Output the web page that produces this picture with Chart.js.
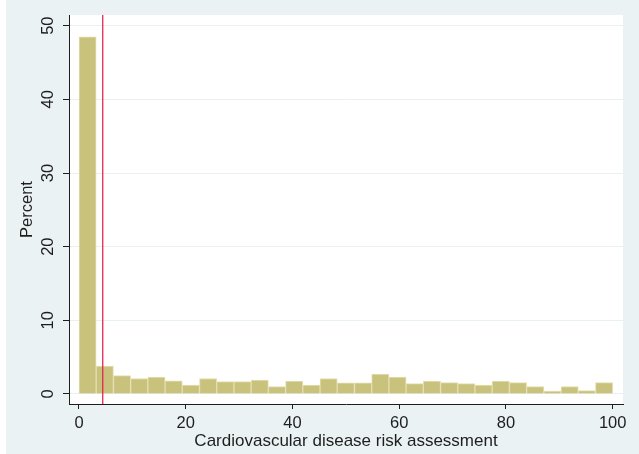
<!DOCTYPE html>
<html>
<head>
<meta charset="utf-8">
<title>Cardiovascular disease risk assessment</title>
<script src="https://cdn.jsdelivr.net/npm/chart.js@4.4.1/dist/chart.umd.min.js"></script>
<style>
  html, body { margin: 0; padding: 0; background: #ffffff; }
  #wrap { width: 639px; height: 454px; }
</style>
</head>
<body>
<div id="wrap"><canvas id="hist" width="639" height="454"></canvas></div>
<script>
// Histogram of the risk score: 31 equal-width bins over 0-100
const binCount = 31;
const scoreMin = 0;
const scoreMax = 100;
const percent = [
  48.5, 3.8, 2.5, 2.1, 2.3, 1.8, 1.2, 2.1, 1.7, 1.7,
  1.9, 1.0, 1.75, 1.2, 2.1, 1.5, 1.5, 2.7, 2.3, 1.4,
  1.75, 1.55, 1.4, 1.2, 1.75, 1.55, 1.0, 0.4, 1.0, 0.45,
  1.55
];
const xTickValues = [0, 20, 40, 60, 80, 100];
const yTickValues = [0, 10, 20, 30, 40, 50];
const cutoff = 4.45;

const binWidth = (scoreMax - scoreMin) / binCount;
const barPoints = percent.map((v, i) => ({ x: scoreMin + (i + 0.5) * binWidth, y: v }));

const yMin = -1.36, yMax = 51.45;
const xMin = -1.87, xMax = 101.93;

const FONT = '"Liberation Sans", Arial, Helvetica, sans-serif';
const TEXT = '#1e1e1e';
const PANEL = '#eaf2f3';

// outer panel and white plot region
const backdrop = {
  id: 'backdrop',
  beforeDraw(chart) {
    const { ctx, chartArea: a, width, height } = chart;
    ctx.save();
    ctx.fillStyle = '#ffffff';
    ctx.fillRect(0, 0, width, height);
    ctx.fillStyle = PANEL;
    ctx.fillRect(6, 0, width - 6, height);
    ctx.fillStyle = '#ffffff';
    ctx.fillRect(a.left, a.top, a.right - a.left, a.bottom - a.top);
    ctx.restore();
  }
};

new Chart(document.getElementById('hist'), {
  data: {
    datasets: [
      {
        type: 'line',
        data: [{ x: cutoff, y: yMin }, { x: cutoff, y: yMax }],
        borderColor: '#e2284f',
        borderWidth: 1.3,
        pointRadius: 0,
        order: 0
      },
      {
        type: 'bar',
        data: barPoints,
        backgroundColor: '#c9c27d',
        borderColor: '#e4dfb2',
        borderWidth: 1,
        barPercentage: 1,
        categoryPercentage: 1,
        order: 1
      }
    ]
  },
  options: {
    responsive: false,
    animation: false,
    devicePixelRatio: 1,
    layout: { padding: { left: 6, top: 15, right: 16, bottom: 0 } },
    plugins: { legend: { display: false }, tooltip: { enabled: false } },
    scales: {
      x: {
        type: 'linear',
        offset: false,
        min: xMin,
        max: xMax,
        afterBuildTicks(scale) { scale.ticks = xTickValues.map(v => ({ value: v })); },
        afterFit(scale) { scale.height = 50; },
        grid: { offset: false, drawOnChartArea: false, drawTicks: true, tickLength: 5, tickColor: TEXT },
        border: { display: true, color: TEXT, width: 1 },
        ticks: { color: TEXT, font: { family: FONT, size: 16.5 }, padding: 5, maxRotation: 0 },
        title: {
          display: true,
          text: 'Cardiovascular disease risk assessment',
          color: TEXT,
          font: { family: FONT, size: 17 },
          padding: { top: 0, bottom: 2 }
        }
      },
      y: {
        type: 'linear',
        min: yMin,
        max: yMax,
        afterBuildTicks(scale) { scale.ticks = yTickValues.map(v => ({ value: v })); },
        afterFit(scale) { scale.width = 63; },
        grid: { color: '#e8f0f2', lineWidth: 1, drawTicks: true, tickLength: 6, tickColor: TEXT },
        border: { display: true, color: TEXT, width: 1 },
        ticks: {
          color: TEXT,
          font: { family: FONT, size: 16.5 },
          minRotation: 90,
          maxRotation: 90,
          crossAlign: 'center',
          padding: 5
        },
        title: {
          display: true,
          text: 'Percent',
          color: TEXT,
          font: { family: FONT, size: 16.5 },
          padding: { top: 12, bottom: 0 }
        }
      }
    }
  },
  plugins: [backdrop]
});
</script>
</body>
</html>
